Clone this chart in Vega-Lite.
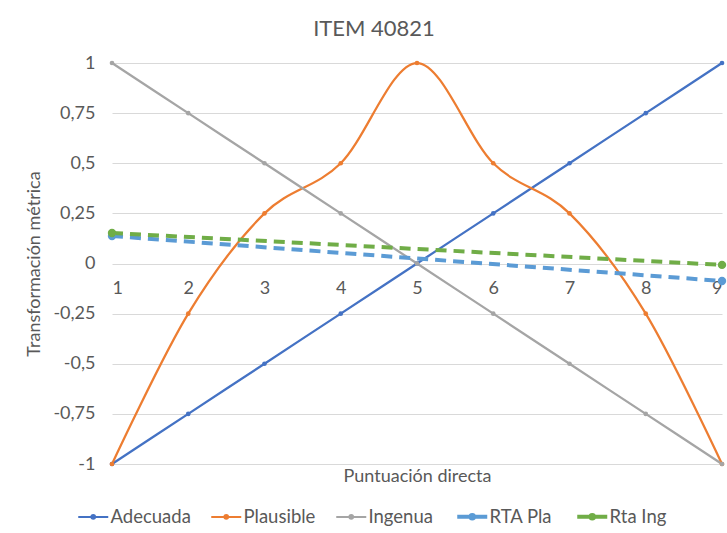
{
  "$schema": "https://vega.github.io/schema/vega-lite/v6.json",
  "width": 610,
  "height": 401,
  "autosize": {"type": "none"},
  "padding": {"left": 112, "top": 63, "right": 5, "bottom": 69},
  "background": "white",
  "config": {
    "font": "Lato",
    "view": {"stroke": null},
    "axis": {"labelColor": "#595959", "titleColor": "#595959", "labelFontSize": 18, "titleFontSize": 18, "titleFontWeight": "normal"}
  },
  "title": {"text": "ITEM 40821", "fontSize": 22, "fontWeight": "normal", "color": "#595959", "dx": -43, "offset": 13},
  "data": {
    "values": [
      {"serie": "Adecuada", "x": 1, "y": -1},
      {"serie": "Adecuada", "x": 2, "y": -0.75},
      {"serie": "Adecuada", "x": 3, "y": -0.5},
      {"serie": "Adecuada", "x": 4, "y": -0.25},
      {"serie": "Adecuada", "x": 5, "y": 0},
      {"serie": "Adecuada", "x": 6, "y": 0.25},
      {"serie": "Adecuada", "x": 7, "y": 0.5},
      {"serie": "Adecuada", "x": 8, "y": 0.75},
      {"serie": "Adecuada", "x": 9, "y": 1},
      {"serie": "Plausible", "x": 1, "y": -1},
      {"serie": "Plausible", "x": 2, "y": -0.25},
      {"serie": "Plausible", "x": 3, "y": 0.25},
      {"serie": "Plausible", "x": 4, "y": 0.5},
      {"serie": "Plausible", "x": 5, "y": 1},
      {"serie": "Plausible", "x": 6, "y": 0.5},
      {"serie": "Plausible", "x": 7, "y": 0.25},
      {"serie": "Plausible", "x": 8, "y": -0.25},
      {"serie": "Plausible", "x": 9, "y": -1},
      {"serie": "Ingenua", "x": 1, "y": 1},
      {"serie": "Ingenua", "x": 2, "y": 0.75},
      {"serie": "Ingenua", "x": 3, "y": 0.5},
      {"serie": "Ingenua", "x": 4, "y": 0.25},
      {"serie": "Ingenua", "x": 5, "y": 0},
      {"serie": "Ingenua", "x": 6, "y": -0.25},
      {"serie": "Ingenua", "x": 7, "y": -0.5},
      {"serie": "Ingenua", "x": 8, "y": -0.75},
      {"serie": "Ingenua", "x": 9, "y": -1},
      {"serie": "RTA Pla", "x": 1, "y": 0.137},
      {"serie": "RTA Pla", "x": 9, "y": -0.087},
      {"serie": "Rta Ing", "x": 1, "y": 0.152},
      {"serie": "Rta Ing", "x": 9, "y": -0.007}
    ]
  },
  "encoding": {
    "x": {
      "field": "x", "type": "quantitative",
      "scale": {"domain": [1, 9], "nice": false, "zero": false},
      "axis": {
        "values": [1, 2, 3, 4, 5, 6, 7, 8, 9],
        "grid": false, "domain": false, "ticks": false,
        "offset": -200.5, "labelPadding": 16,
        "title": "Puntuación directa", "titleBaseline": "top", "titleY": 204
      }
    },
    "y": {
      "field": "y", "type": "quantitative",
      "scale": {"domain": [-1, 1], "nice": false},
      "axis": {
        "values": [-1, -0.75, -0.5, -0.25, 0, 0.25, 0.5, 0.75, 1],
        "grid": true, "gridColor": "#d9d9d9", "gridWidth": 1,
        "domain": false, "ticks": false, "labelPadding": 17,
        "labelExpr": "replace(replace(format(datum.value, '.2~f'), '.', ','), '\u2212', '-')",
        "title": "Transformación métrica", "titlePadding": 9
      }
    },
    "color": {
      "field": "serie", "type": "nominal",
      "scale": {
        "domain": ["Adecuada", "Plausible", "Ingenua", "RTA Pla", "Rta Ing"],
        "range": ["#4472C4", "#ED7D31", "#A5A5A5", "#5B9BD5", "#70AD47"]
      },
      "legend": {
        "title": null, "orient": "none", "direction": "horizontal",
        "legendX": -28, "legendY": 444,
        "symbolType": "M-1,0H1M0,-0.12A0.12,0.12,0,1,1,0,0.12A0.12,0.12,0,1,1,0,-0.12",
        "symbolSize": 900, "symbolStrokeWidth": 2,
        "labelFontSize": 18.5, "labelColor": "#595959", "labelOffset": 8,
        "columnPadding": 16,
        "encode": {
          "symbols": {
            "update": {
              "strokeWidth": {"signal": "datum.value === 'RTA Pla' || datum.value === 'Rta Ing' ? 4 : 2"},
              "strokeDash": {"value": []},
              "fillOpacity": {"value": 0}
            }
          }
        }
      }
    }
  },
  "layer": [
    {
      "transform": [{"filter": "datum.serie === 'Adecuada' || datum.serie === 'Plausible' || datum.serie === 'Ingenua'"}],
      "mark": {"type": "line", "interpolate": "cardinal", "strokeWidth": 2.25, "point": {"filled": true, "size": 22}}
    },
    {
      "transform": [{"filter": "datum.serie === 'RTA Pla' || datum.serie === 'Rta Ing'"}],
      "mark": {"type": "line", "strokeWidth": 4, "strokeDash": [11, 7], "point": {"filled": true, "size": 70}}
    }
  ]
}
